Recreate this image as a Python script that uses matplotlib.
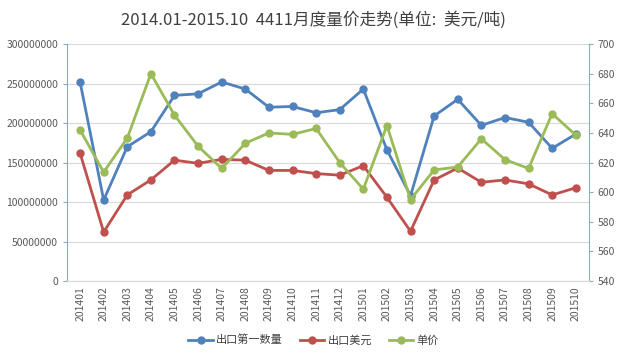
import numpy as np
import matplotlib
matplotlib.use("Agg")
import matplotlib.pyplot as plt

plt.rcParams['font.family'] = ['Noto Sans CJK SC', 'DejaVu Sans']

# 月份
months = ["201401", "201402", "201403", "201404", "201405", "201406", "201407",
          "201408", "201409", "201410", "201411", "201412", "201501", "201502",
          "201503", "201504", "201505", "201506", "201507", "201508", "201509",
          "201510"]
# 出口第一数量
qty = [252e6, 102.5e6, 170e6, 189e6, 235e6, 237e6, 252e6, 243e6, 220e6, 221e6, 213e6,
       217e6, 243e6, 166e6, 108e6, 209e6, 230e6, 197e6, 207e6, 201e6, 168e6, 186e6]
# 出口美元
usd = [162e6, 62e6, 109e6, 128e6, 153e6, 149e6, 154e6, 153e6, 140e6, 140e6, 136e6,
       134e6, 146e6, 106e6, 63e6, 128e6, 143e6, 125e6, 128e6, 123e6, 109e6, 118e6]
# 单价
price = [642, 613.5, 636.5, 680, 652, 631, 616, 633, 640, 639, 643,
         620, 602, 645, 595, 615, 617, 636, 622, 616, 653, 638.5]

blue, red, green = "#4F81BD", "#C0504D", "#9BBB59"
x = np.arange(len(months))

fig = plt.figure(figsize=(6.27, 3.58), dpi=100)
ax = fig.add_axes([0.107, 0.215, 0.832, 0.662])
ax2 = ax.twinx()

l1, = ax.plot(x, qty, color=blue, lw=2, marker='o', ms=5, label="出口第一数量")
l2, = ax.plot(x, usd, color=red, lw=2, marker='o', ms=5, label="出口美元")
l3, = ax2.plot(x, price, color=green, lw=2, marker='o', ms=5, label="单价")

ax.set_ylim(0, 300e6)
ax.set_yticks(np.arange(0, 300e6 + 1, 50e6))
ax.set_yticklabels([str(int(v)) for v in np.arange(0, 300e6 + 1, 50e6)])
ax2.set_ylim(540, 700)
ax2.set_yticks(np.arange(540, 701, 20))
ax.set_xlim(-0.55, len(months) - 0.45)
ax.set_xticks(x)
ax.set_xticklabels(months, rotation=90)

ax.grid(axis='y', color='#D9D9D9', lw=0.8)
ax.set_axisbelow(True)
for a in (ax, ax2):
    for s in ('top',):
        a.spines[s].set_visible(False)
    a.spines['bottom'].set_color('#D9D9D9')
    a.tick_params(colors='#595959', labelsize=7.5, length=3)
ax.spines['left'].set_color('#8DA9C4')
ax2.spines['right'].set_color('#8FB0B0')
ax.spines['right'].set_visible(False)
ax2.spines['left'].set_visible(False)
ax.tick_params(axis='x', length=0)
ax.tick_params(axis='y', color='#8DA9C4')
ax2.tick_params(axis='y', color='#8FB0B0')

fig.text(0.5, 0.945, "2014.01-2015.10  4411月度量价走势(单位:  美元/吨)",
         ha='center', va='center', fontsize=12, color='#404040')
fig.legend(handles=[l1, l2, l3], loc='center', bbox_to_anchor=(0.5, 0.05),
           ncol=3, frameon=False, fontsize=8, handlelength=2.2,
           columnspacing=1.5, handletextpad=0.3, labelcolor='#404040')

fig.savefig("out.png", dpi=100)
